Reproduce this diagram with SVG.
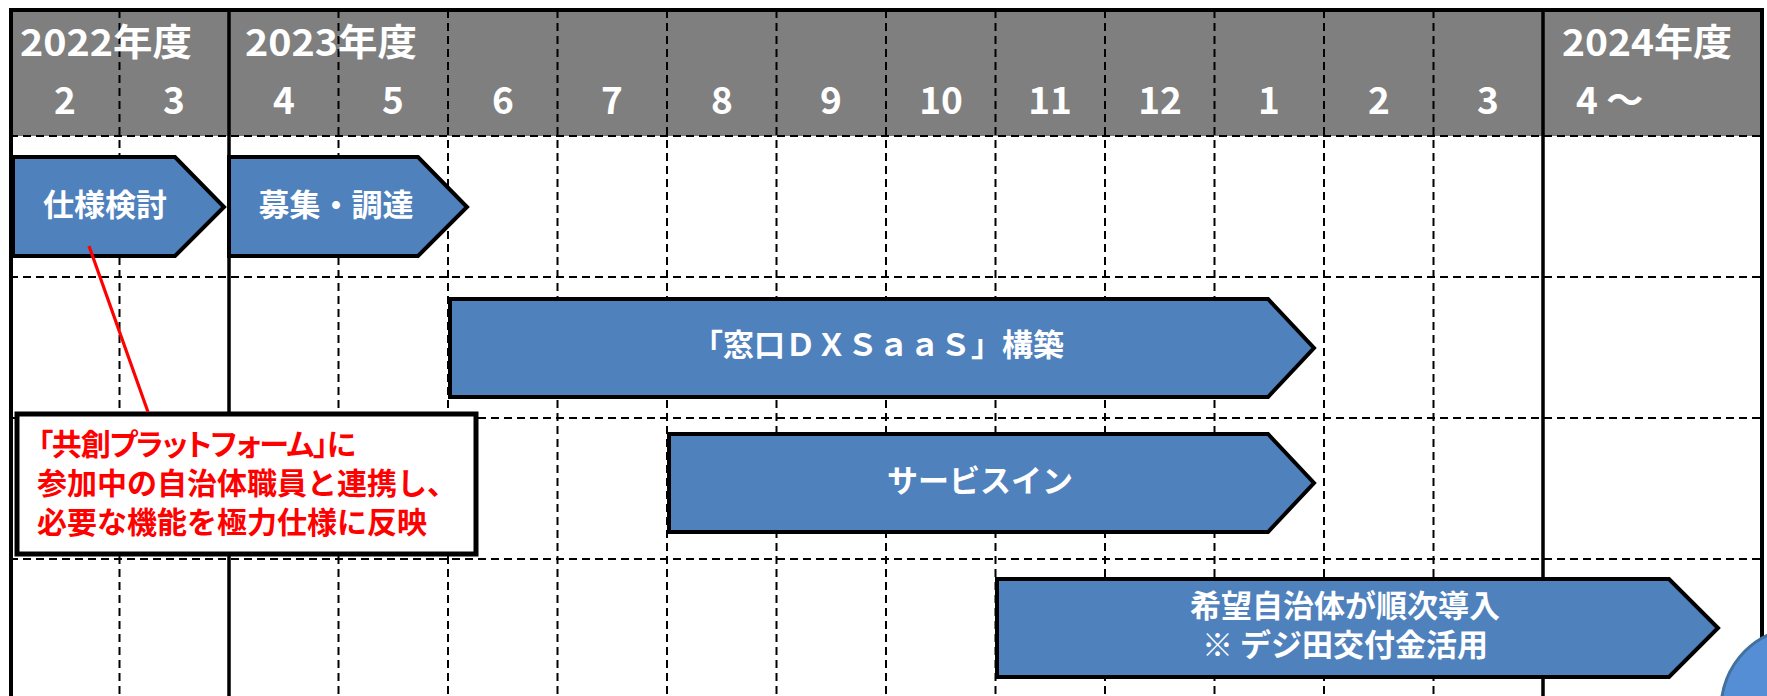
<svg xmlns="http://www.w3.org/2000/svg" width="1767" height="696" viewBox="0 0 1767 696">
<style>
text{font-family:"Noto Sans CJK JP","Noto Sans",sans-serif;font-weight:bold}
.hd{fill:#fff;font-size:37px}
.mo{fill:#fff;font-size:37px;text-anchor:middle}
.dash{stroke:#000;stroke-width:2;stroke-dasharray:8 5;fill:none}
.solid{stroke:#000;stroke-width:3.5;fill:none}
.bar{fill:#4F81BD;stroke:#000;stroke-width:4;stroke-linejoin:miter}
.bt{fill:#fff;font-size:31px;text-anchor:middle}
.rt{fill:#f00;font-size:30px}
.palt{font-feature-settings:"palt"}
</style>
<rect width="1767" height="696" fill="#fff"/>
<g id="header">
<rect x="10" y="10" width="1752" height="126" fill="#7F7F7F"/>
</g>
<g id="grid">
<path class="dash" d="M119.5 10V696M338.5 10V696M448 10V696M557.5 10V696M667 10V696M776.5 10V696M886 10V696M995.5 10V696M1105 10V696M1214.5 10V696M1324 10V696M1433.5 10V696"/>
<path class="dash" d="M10 136H1762M10 277H1762M10 418H1762M10 559H1762"/>
<path class="solid" d="M229 10V696M1543 10V696"/>
<path stroke="#000" stroke-width="4" fill="none" d="M11 696V10H1762V696"/>
</g>
<g id="header-labels">
<text class="hd" x="20" y="56" textLength="172" lengthAdjust="spacingAndGlyphs">2022年度</text>
<text class="hd" x="245" y="56" textLength="172" lengthAdjust="spacingAndGlyphs">2023年度</text>
<text class="hd" x="1562" y="56" textLength="170" lengthAdjust="spacingAndGlyphs">2024年度</text>
<text class="mo" x="65" y="114">2</text>
<text class="mo" x="174" y="114">3</text>
<text class="mo" x="284" y="114">4</text>
<text class="mo" x="393" y="114">5</text>
<text class="mo" x="503" y="114">6</text>
<text class="mo" x="612" y="114">7</text>
<text class="mo" x="722" y="114">8</text>
<text class="mo" x="831" y="114">9</text>
<text class="mo" x="941" y="114">10</text>
<text class="mo" x="1050" y="114">11</text>
<text class="mo" x="1160" y="114">12</text>
<text class="mo" x="1269" y="114">1</text>
<text class="mo" x="1379" y="114">2</text>
<text class="mo" x="1488" y="114">3</text>
<text class="hd" x="1576" y="114">4 ～</text>
</g>
<g id="bar-shiyou">
<polygon class="bar" points="13,157 175,157 224,207 175,256 13,256"/>
<text class="bt" x="105" y="216">仕様検討</text>
</g>
<g id="bar-boshu">
<polygon class="bar" points="229,157 418,157 467,207 418,256 229,256"/>
<text class="bt" x="336" y="216">募集・調達</text>
</g>
<g id="bar-kouchiku">
<polygon class="bar" points="450,299 1268,299 1314,348 1268,397 450,397"/>
<text class="bt" x="878" y="356">「窓口ＤＸＳａａＳ」構築</text>
</g>
<g id="bar-service">
<polygon class="bar" points="669,434 1268,434 1314,483 1268,532 669,532"/>
<text class="bt" x="980" y="492">サービスイン</text>
</g>
<g id="bar-dounyu">
<polygon class="bar" points="997,579 1669,579 1718,628 1669,677 997,677"/>
<text class="bt" x="1345" y="617">希望自治体が順次導入</text>
<text class="bt" x="1345" y="656">※ デジ田交付金活用</text>
</g>
<g id="callout">
<rect x="17" y="414" width="459" height="140" fill="#fff" stroke="#000" stroke-width="5"/>
<text class="rt palt" x="38" y="455" textLength="318" lengthAdjust="spacing">「共創プラットフォーム」に</text>
<text class="rt" x="37" y="494">参加中の自治体職員と連携し、</text>
<text class="rt" x="37" y="533">必要な機能を極力仕様に反映</text>
</g>
<g id="connectors">
<line x1="89" y1="246" x2="148" y2="412" stroke="#f00" stroke-width="3.2"/>
</g>
<g id="badge">
<circle cx="1803" cy="709" r="82" fill="#558ED5" stroke="#41719C" stroke-width="3"/>
</g>
</svg>
